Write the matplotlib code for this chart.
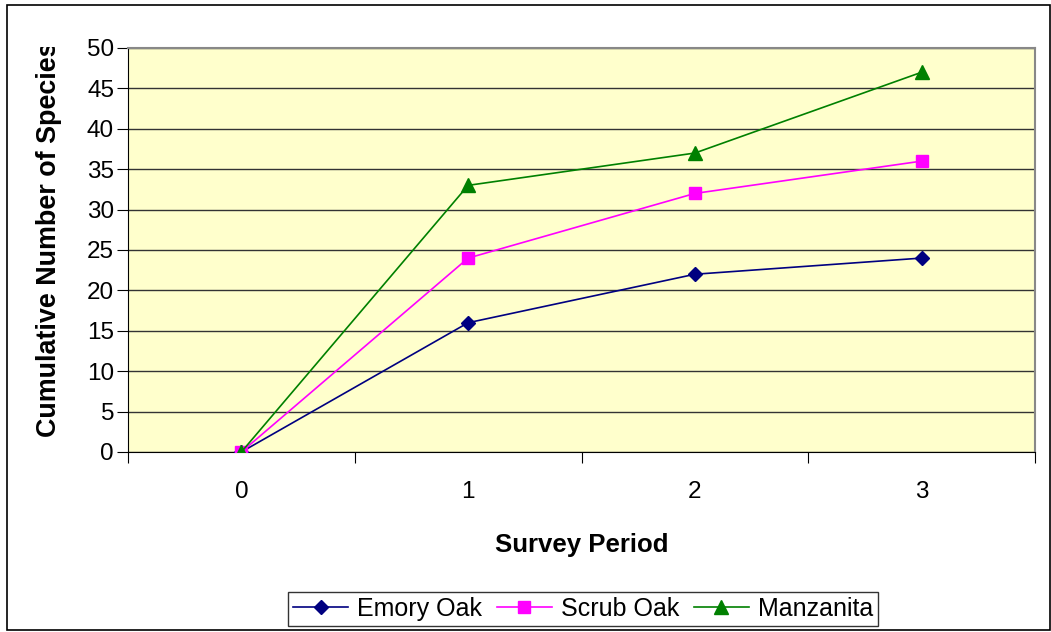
import matplotlib.pyplot as plt
from matplotlib.patches import Rectangle

periods = [0, 1, 2, 3]
emory_oak = [0, 16, 22, 24]
scrub_oak = [0, 24, 32, 36]
manzanita = [0, 33, 37, 47]

plt.rcParams['font.family'] = ['Liberation Sans', 'DejaVu Sans']

W, H = 1051, 632
fig = plt.figure(figsize=(W / 100, H / 100), dpi=100)
fig.patches.append(Rectangle((7 / W, 2 / H), 1043 / W, 625 / H,
                             transform=fig.transFigure, fill=False,
                             edgecolor='black', linewidth=1.2))

ax = fig.add_axes([128 / W, 1 - 452 / H, 907 / W, 404 / H])
ax.set_facecolor('#FFFFCC')

ax.plot(periods, emory_oak, color='#000080', marker='D', markersize=7,
        linewidth=1.2, label='Emory Oak', zorder=3)
ax.plot(periods, scrub_oak, color='#FF00FF', marker='s', markersize=9,
        linewidth=1.2, label='Scrub Oak', zorder=3)
ax.plot(periods, manzanita, color='#008000', marker='^', markersize=10,
        linewidth=1.2, label='Manzanita', zorder=3)

ax.set_xlim(-0.5, 3.5)
ax.set_ylim(0, 50)
ax.set_yticks(range(0, 51, 5))
ax.yaxis.grid(True, color='#333333', linewidth=1)
ax.set_axisbelow(True)

# category labels sit between the tick marks
ax.set_xticks([-0.5, 0.5, 1.5, 2.5, 3.5])
ax.set_xticklabels([])
ax.set_xticks(periods, minor=True)
ax.set_xticklabels([str(p) for p in periods], minor=True)
ax.tick_params(axis='x', which='major', length=8, direction='out', color='black')
ax.tick_params(axis='x', which='minor', length=0, pad=21, labelsize=17.5)
ax.tick_params(axis='y', length=8, direction='out', labelsize=17.5, pad=2)

for side in ['top', 'right']:
    ax.spines[side].set_color('#888888')
    ax.spines[side].set_linewidth(1.5)
ax.spines['left'].set_color('black')
ax.spines['bottom'].set_color('black')

ax.set_xlabel('Survey Period', fontsize=18.5, fontweight='bold')
ax.xaxis.set_label_coords(0.5, -0.2)

# y label runs past the top of the plot area and is cut off there
ylab = fig.text(49 / W, 1 - 437 / H, 'Cumulative Number of Species',
                rotation=90, ha='center', va='bottom', fontsize=19.4,
                fontweight='bold')
ylab.set_clip_path(Rectangle((0, 0), 1, 1 - 47 / H, transform=fig.transFigure))

leg = fig.legend(loc='center', bbox_to_anchor=(583 / W, 1 - 609 / H), ncol=3,
                 frameon=True, fancybox=False, edgecolor='black', fontsize=18,
                 handlelength=2.2, handletextpad=0.35, columnspacing=0.6,
                 borderpad=0.2)
leg.get_frame().set_linewidth(1)

fig.savefig('out.png', dpi=100)
